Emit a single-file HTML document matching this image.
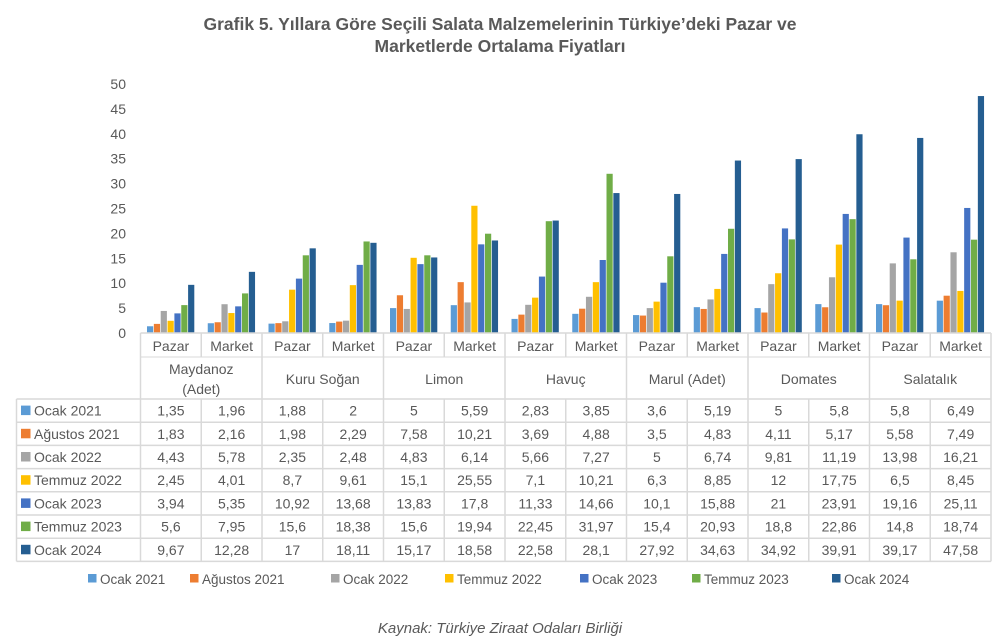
<!DOCTYPE html>
<html><head><meta charset="utf-8"><style>
body{margin:0;background:#fff;width:1001px;height:642px;overflow:hidden}
svg{display:block;font-family:"Liberation Sans","DejaVu Sans",sans-serif}
</style></head><body>
<svg id="s" width="1001" height="642" xmlns="http://www.w3.org/2000/svg">
<text x="500" y="30" text-anchor="middle" font-size="17.5" font-weight="bold" fill="#595959">Grafik 5. Yıllara Göre Seçili Salata Malzemelerinin Türkiye’deki Pazar ve</text>
<text x="500" y="52" text-anchor="middle" font-size="17.5" font-weight="bold" fill="#595959">Marketlerde Ortalama Fiyatları</text>
<text x="500" y="633" text-anchor="middle" font-size="15" font-style="italic" fill="#595959">Kaynak: Türkiye Ziraat Odaları Birliği</text>
</svg>
<script>
const s=document.getElementById('s');const NS='http://www.w3.org/2000/svg';
function el(t,a,txt){const e=document.createElementNS(NS,t);for(const k in a)e.setAttribute(k,a[k]);if(txt!=null)e.textContent=txt;s.appendChild(e);return e;}
const colors=['#5b9bd5','#ed7d31','#a5a5a5','#ffc000','#4472c4','#70ad47','#255e91'];
const names=['Ocak 2021','Ağustos 2021','Ocak 2022','Temmuz 2022','Ocak 2023','Temmuz 2023','Ocak 2024'];
const data=[
['1,35','1,96','1,88','2','5','5,59','2,83','3,85','3,6','5,19','5','5,8','5,8','6,49'],
['1,83','2,16','1,98','2,29','7,58','10,21','3,69','4,88','3,5','4,83','4,11','5,17','5,58','7,49'],
['4,43','5,78','2,35','2,48','4,83','6,14','5,66','7,27','5','6,74','9,81','11,19','13,98','16,21'],
['2,45','4,01','8,7','9,61','15,1','25,55','7,1','10,21','6,3','8,85','12','17,75','6,5','8,45'],
['3,94','5,35','10,92','13,68','13,83','17,8','11,33','14,66','10,1','15,88','21','23,91','19,16','25,11'],
['5,6','7,95','15,6','18,38','15,6','19,94','22,45','31,97','15,4','20,93','18,8','22,86','14,8','18,74'],
['9,67','12,28','17','18,11','15,17','18,58','22,58','28,1','27,92','34,63','34,92','39,91','39,17','47,58']];
const x0=140.5,cw=60.75,y0=333,k=4.98;
const gray='#595959',line='#d9d9d9';
for(let v=0;v<=50;v+=5){el('text',{x:126,y:y0-v*k+5,'text-anchor':'end','font-size':14,fill:gray},v);}
for(let c=0;c<14;c++){for(let i=0;i<7;i++){const v=parseFloat(data[i][c].replace(',','.'));
el('rect',{x:x0+c*cw+6.5+i*6.85,y:y0-v*k,width:6.2,height:v*k,fill:colors[i]});}}
const rows=[399,422.2,445.4,468.6,491.8,515,538.2,561.4];
const L=16.5,R=x0+14*cw;
el('line',{x1:x0,y1:y0,x2:R,y2:y0,stroke:line,'stroke-width':1.5});
el('line',{x1:x0,y1:357,x2:R,y2:357,stroke:line});
rows.forEach((y)=>el('line',{x1:L,y1:y,x2:R,y2:y,stroke:line,'stroke-width':1.5}));
el('line',{x1:L,y1:399,x2:L,y2:561.4,stroke:line,'stroke-width':1.5});
for(let c=0;c<=14;c++){const x=x0+c*cw;const bot=561.4;
el('line',{x1:x,y1:y0,x2:x,y2:(c%2==1)?357:bot,stroke:line,'stroke-width':1.5});
if(c%2==1)el('line',{x1:x,y1:399,x2:x,y2:bot,stroke:line,'stroke-width':1.5});}
const groups=[['Maydanoz','(Adet)'],['Kuru Soğan'],['Limon'],['Havuç'],['Marul (Adet)'],['Domates'],['Salatalık']];
for(let c=0;c<14;c++){el('text',{x:x0+c*cw+cw/2,y:351,'text-anchor':'middle','font-size':14,fill:gray},c%2?'Market':'Pazar');}
groups.forEach((g,i)=>{const cx=x0+i*2*cw+cw;if(g.length==2){el('text',{x:cx,y:374,'text-anchor':'middle','font-size':14,fill:gray},g[0]);el('text',{x:cx,y:394,'text-anchor':'middle','font-size':14,fill:gray},g[1]);}else el('text',{x:cx,y:384,'text-anchor':'middle','font-size':14,fill:gray},g[0]);});
for(let i=0;i<7;i++){const yc=(rows[i]+rows[i+1])/2;
el('rect',{x:21,y:yc-5,width:9.5,height:9.5,fill:colors[i]});
el('text',{x:34,y:yc+5,'font-size':14,fill:gray},names[i]);
for(let c=0;c<14;c++)el('text',{x:x0+c*cw+cw/2,y:yc+5,'text-anchor':'middle','font-size':14,fill:gray},data[i][c]);}
const lx=[88,190,331,445,580,692,832];
for(let i=0;i<7;i++){el('rect',{x:lx[i],y:574,width:8.5,height:8.5,fill:colors[i]});el('text',{x:lx[i]+12,y:584,'font-size':13.5,fill:gray},names[i]);}
</script>
</body></html>
